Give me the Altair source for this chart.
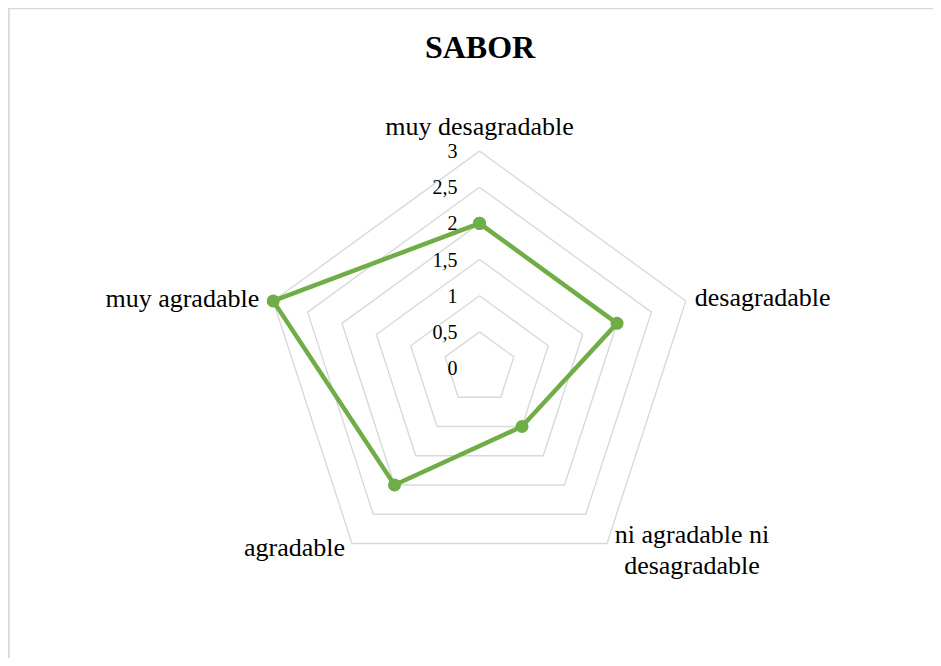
import altair as alt
import pandas as pd

# ---- data ----
categories = ["muy desagradable", "desagradable", "ni agradable ni desagradable",
              "agradable", "muy agradable"]
values = [2, 2, 1, 2, 3]
grid_levels = [0.5, 1.0, 1.5, 2.0, 2.5, 3.0]
tick_values = [0, 0.5, 1.0, 1.5, 2.0, 2.5, 3.0]
tick_labels = ["0", "0,5", "1", "1,5", "2", "2,5", "3"]
title_text = "SABOR"
r_max = 3

N = len(categories)
W, H = 925, 650
FONT = "Times New Roman, Liberation Serif, DejaVu Serif, serif"
GREEN = "#70AD47"
GRID = "#d9d9d9"

series_df = pd.DataFrame([{"i": k, "cat": categories[k % N], "v": values[k % N]}
                          for k in range(N + 1)])
grid_df = pd.DataFrame([{"i": k, "level": lv, "v": lv}
                        for lv in grid_levels for k in range(N + 1)])
tick_df = pd.DataFrame({"v": tick_values, "lab": tick_labels, "i": 0})
cat_df = pd.DataFrame({"i": list(range(N)), "cat": categories, "v": r_max})
cat_df["lines"] = [c if k != 2 else "ni agradable ni\ndesagradable" for k, c in enumerate(categories)]

xs = alt.Scale(domain=[-6.521, 6.272], nice=False, zero=False)
ys = alt.Scale(domain=[-4.011, 4.979], nice=False, zero=False)


def polar(ch):
    return ch.transform_calculate(
        ang=f"2*PI*datum.i/{N}"
    ).transform_calculate(
        px="datum.v*sin(datum.ang)", py="datum.v*cos(datum.ang)"
    )


X = alt.X("px:Q", scale=xs, axis=None)
Y = alt.Y("py:Q", scale=ys, axis=None)

grid = polar(alt.Chart(grid_df)).mark_line(color=GRID, strokeWidth=1.4).encode(
    x=X, y=Y, detail="level:N", order="i:O")

line = polar(alt.Chart(series_df)).mark_line(color=GREEN, strokeWidth=4.5).encode(
    x=X, y=Y, order="i:O")

pts = polar(alt.Chart(series_df)).mark_circle(color=GREEN, size=170, opacity=1).encode(
    x=X, y=Y)

ticks = polar(alt.Chart(tick_df)).mark_text(
    font=FONT, fontSize=20, align="right", baseline="middle", dx=-22, dy=1, color="#000"
).encode(x=X, y=Y, text="lab:N")


def cat_layer(idx, align, dx, dy):
    return polar(alt.Chart(cat_df)).transform_filter(f"datum.i == {idx}").mark_text(
        font=FONT, fontSize=26, align=align, baseline="alphabetic", dx=dx, dy=dy,
        lineBreak="\n", lineHeight=31, color="#000"
    ).encode(x=X, y=Y, text="lines:N")


cats = [
    cat_layer(0, "center", 0, -16),
    cat_layer(1, "left", 9, 5),
    cat_layer(2, "center", 85, 0),
    cat_layer(3, "right", -7, 13),
    cat_layer(4, "right", -14, 6),
]

title = alt.Chart(pd.DataFrame({"t": [title_text]})).mark_text(
    font=FONT, fontSize=32, fontWeight="bold", align="center", baseline="alphabetic",
    color="#000"
).encode(x=alt.value(472), y=alt.value(50), text="t:N")

border_top = alt.Chart(pd.DataFrame({"a": [0]})).mark_rule(color=GRID, strokeWidth=1.5).encode(
    x=alt.value(0), x2=alt.value(W), y=alt.value(0.5))
border_left = alt.Chart(pd.DataFrame({"a": [0]})).mark_rule(color=GRID, strokeWidth=1.5).encode(
    x=alt.value(1), y=alt.value(0), y2=alt.value(H))

chart = alt.layer(border_top, border_left, grid, line, pts, ticks, *cats, title).properties(
    width=W, height=H, padding=0, autosize=alt.AutoSizeParams(type="none")
).configure_view(stroke=None).configure(background="white")

chart.save("out.html", embed_options={"renderer": "svg", "actions": False})
